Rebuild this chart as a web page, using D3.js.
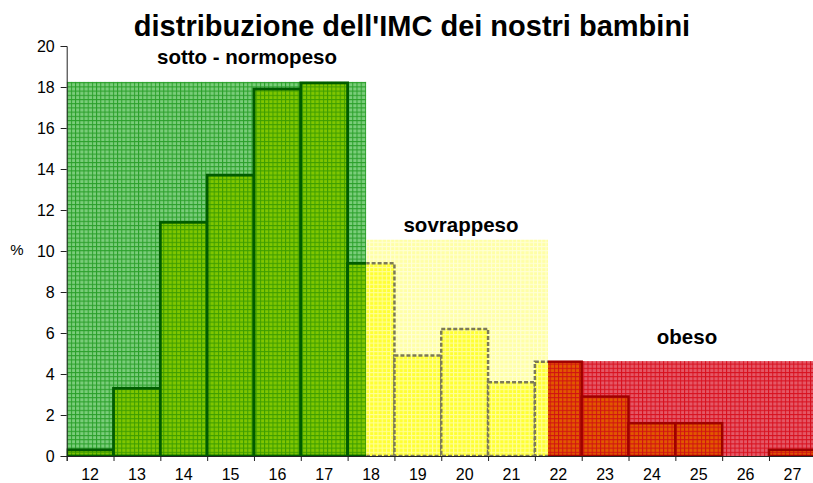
<!DOCTYPE html>
<html>
<head>
<meta charset="utf-8">
<script src="https://cdn.jsdelivr.net/npm/d3@7"></script>
<style>
  body { margin: 0; background: #fff; }
  svg { display: block; font-family: "Liberation Sans", Arial, sans-serif; }
</style>
</head>
<body>
<svg id="chart"></svg>
<script>
// data
const categories = [12, 13, 14, 15, 16, 17, 18, 19, 20, 21, 22, 23, 24, 25, 26, 27];
const values = [0.3, 3.3, 11.4, 13.7, 17.9, 18.2, 9.4, 4.9, 6.2, 3.6, 4.6, 2.9, 1.6, 1.6, 0, 0.3];
const zoneNames = ['sotto - normopeso', 'sovrappeso', 'obeso'];
const zoneFrom = [12, 18.4, 22.28];
const zoneTo = [18.4, 22.28, 28.5];
const zoneTop = [18.25, 10.55, 4.63];
const yTicks = [0, 2, 4, 6, 8, 10, 12, 14, 16, 18, 20];

const width = 813;
const height = 483;

const svg = d3.select('#chart')
  .attr('width', width)
  .attr('height', height);

// scales
const x = d3.scaleLinear().domain([12, 28]).range([66.7, 815.8]);
const xBand = d3.scaleBand().domain(categories).range([x(12), x(28)]);
const y = d3.scaleLinear().domain([0, 20]).range([456, 46]);

// zone looks: background pattern, bar pattern, bar outline
const looks = [
  { bg: ['#7acd7a', '#2a9f2a'], bar: ['#80c600', '#3d9d00'], stroke: '#005c00', dash: null, sw: 2.8 },
  { bg: ['#ffffa6', '#ffffd6'], bar: ['#ffff33', '#ffff9a'], stroke: '#7c7a58', dash: '4,2', sw: 2.5 },
  { bg: ['#e45866', '#d8101e'], bar: ['#e25800', '#d01212'], stroke: '#a00000', dash: null, sw: 2.5 }
];

const defs = svg.append('defs');
const cell = 4.2;

function makePattern(id, base, line) {
  const p = defs.append('pattern')
    .attr('id', id)
    .attr('patternUnits', 'userSpaceOnUse')
    .attr('x', x(12))
    .attr('y', y(0))
    .attr('width', cell)
    .attr('height', cell);
  p.append('rect').attr('width', cell).attr('height', cell).attr('fill', base);
  p.append('path')
    .attr('d', `M0,0.5H${cell}M0.5,0V${cell}`)
    .attr('stroke', line)
    .attr('stroke-width', 1)
    .attr('fill', 'none');
}

looks.forEach((lk, i) => {
  makePattern('bg' + i, lk.bg[0], lk.bg[1]);
  makePattern('bar' + i, lk.bar[0], lk.bar[1]);
  defs.append('clipPath').attr('id', 'clip' + i)
    .append('rect')
    .attr('x', x(zoneFrom[i]))
    .attr('y', 0)
    .attr('width', x(zoneTo[i]) - x(zoneFrom[i]))
    .attr('height', y(0) + 1);
});

// zones with their bars
zoneNames.forEach((name, i) => {
  const lk = looks[i];
  const g = svg.append('g').attr('clip-path', `url(#clip${i})`);

  g.append('rect')
    .attr('x', x(zoneFrom[i]))
    .attr('y', y(zoneTop[i]))
    .attr('width', x(zoneTo[i]) - x(zoneFrom[i]))
    .attr('height', y(0) - y(zoneTop[i]))
    .attr('fill', `url(#bg${i})`);

  g.selectAll('.bar')
    .data(categories.map((c, k) => ({ c, v: values[k] })).filter(d => d.v > 0))
    .enter()
    .append('rect')
    .attr('class', 'bar')
    .attr('x', d => x(d.c))
    .attr('y', d => y(d.v))
    .attr('width', d => x(d.c + 1) - x(d.c))
    .attr('height', d => y(0) - y(d.v))
    .attr('fill', `url(#bar${i})`)
    .attr('stroke', lk.stroke)
    .attr('stroke-width', lk.sw)
    .attr('stroke-dasharray', lk.dash);
});

// axes
const yAxis = svg.append('g')
  .attr('transform', `translate(${x(12)},0)`)
  .call(d3.axisLeft(y).tickValues(yTicks).tickSize(6).tickPadding(6));

const xTicks = svg.append('g')
  .attr('transform', `translate(0,${y(0)})`)
  .call(d3.axisBottom(x).tickValues(d3.range(12, 29)).tickFormat('').tickSize(5));

// category labels sit between the ticks, kept just inside the bottom edge
const xLabels = svg.append('g')
  .attr('transform', `translate(0,${y(0)})`)
  .call(d3.axisBottom(xBand).tickSize(0).tickPadding(13));
xLabels.select('.domain').remove();

[yAxis, xTicks, xLabels].forEach(a => {
  a.selectAll('text')
    .attr('font-family', '"Liberation Sans", Arial, sans-serif')
    .attr('font-size', 16)
    .attr('fill', '#000');
  a.selectAll('line, path').attr('stroke', '#222');
});

// texts
svg.append('text')
  .attr('x', 17)
  .attr('y', 255)
  .attr('text-anchor', 'middle')
  .attr('font-size', 15)
  .text('%');

svg.append('text')
  .attr('x', 412)
  .attr('y', 36)
  .attr('text-anchor', 'middle')
  .attr('font-size', 29)
  .attr('font-weight', 'bold')
  .text("distribuzione dell'IMC dei nostri bambini");

const zoneLabelX = [247, 461, 687];
const zoneLabelY = [64, 232, 344];
zoneNames.forEach((name, i) => {
  svg.append('text')
    .attr('x', zoneLabelX[i])
    .attr('y', zoneLabelY[i])
    .attr('text-anchor', 'middle')
    .attr('font-size', 20.5)
    .attr('font-weight', 'bold')
    .text(name);
});
</script>
</body>
</html>
